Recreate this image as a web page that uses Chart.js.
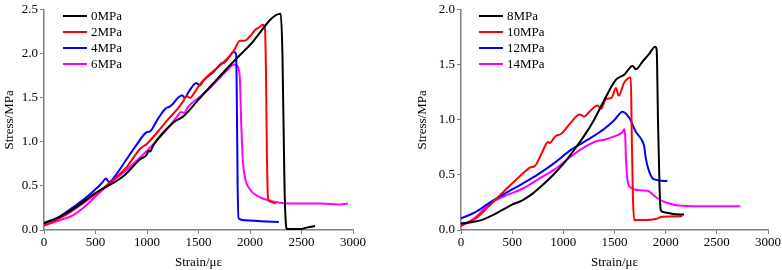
<!DOCTYPE html>
<html>
<head>
<meta charset="utf-8">
<script src="https://cdn.jsdelivr.net/npm/chart.js@4.4.1/dist/chart.umd.min.js"></script>
<style>
  body { margin: 0; background: #fff; }
  #wrap { position: relative; width: 782px; height: 270px; }
  .box { position: absolute; top: 0; width: 391px; height: 270px; }
</style>
</head>
<body>
<div id="wrap">
  <div class="box" style="left:0"><canvas id="leftChart"></canvas></div>
  <div class="box" style="left:391px"><canvas id="rightChart"></canvas></div>
</div>
<script>
// left panel: 0, 2, 4, 6 MPa
const strain0 = [0, 150, 285, 500, 770, 930, 1000, 1013, 1030, 1060, 1256, 1352, 1500, 1822, 2000, 2298, 2315, 2335, 2350, 2360, 2485, 2560, 2631];
const stress0 = [0.08, 0.15, 0.24, 0.42, 0.61, 0.80, 0.86, 0.90, 0.89, 0.96, 1.22, 1.29, 1.48, 1.89, 2.10, 2.456, 2.0, 0.5, 0.05, 0.01, 0.01, 0.03, 0.045];
const strain2 = [0, 130, 250, 400, 500, 600, 700, 800, 932, 1000, 1100, 1200, 1300, 1350, 1385, 1420, 1450, 1500, 1550, 1600, 1700, 1800, 1850, 1903, 1950, 2000, 2050, 2100, 2125, 2145, 2155, 2165, 2175, 2200, 2250];
const stress2 = [0.05, 0.12, 0.20, 0.32, 0.41, 0.50, 0.60, 0.71, 0.92, 0.98, 1.11, 1.25, 1.38, 1.46, 1.52, 1.50, 1.54, 1.63, 1.70, 1.76, 1.86, 1.97, 2.05, 2.15, 2.15, 2.20, 2.27, 2.31, 2.33, 2.30, 1.8, 0.8, 0.36, 0.32, 0.30];
const strain4 = [0, 150, 285, 400, 479, 560, 602, 631, 700, 800, 900, 997, 1030, 1100, 1180, 1220, 1250, 1300, 1340, 1370, 1400, 1480, 1510, 1550, 1650, 1720, 1750, 1800, 1840, 1865, 1872, 1880, 1890, 1950, 2100, 2280];
const stress4 = [0.07, 0.15, 0.26, 0.36, 0.44, 0.53, 0.585, 0.544, 0.63, 0.80, 0.97, 1.11, 1.12, 1.25, 1.38, 1.40, 1.43, 1.50, 1.53, 1.50, 1.56, 1.67, 1.64, 1.70, 1.80, 1.89, 1.90, 1.97, 2.02, 2.00, 1.5, 0.5, 0.13, 0.11, 0.10, 0.09];
const strain6 = [0, 150, 285, 400, 500, 609, 800, 1000, 1200, 1300, 1330, 1360, 1400, 1500, 1600, 1700, 1800, 1843, 1870, 1900, 1915, 1930, 1950, 2000, 2100, 2200, 2291, 2500, 2700, 2850, 2951];
const stress6 = [0.05, 0.11, 0.17, 0.27, 0.38, 0.50, 0.68, 0.90, 1.15, 1.30, 1.34, 1.33, 1.40, 1.50, 1.60, 1.72, 1.84, 1.88, 1.87, 1.75, 1.2, 0.8, 0.6, 0.46, 0.37, 0.33, 0.31, 0.30, 0.30, 0.29, 0.30];

// right panel: 8, 10, 12, 14 MPa
const strain8 = [0, 100, 200, 300, 400, 500, 600, 700, 800, 900, 1000, 1100, 1200, 1300, 1400, 1515, 1595, 1676, 1709, 1774, 1839, 1897, 1912, 1925, 1940, 1952, 1990, 2076, 2179];
const stress8 = [0.06, 0.07, 0.09, 0.13, 0.18, 0.23, 0.27, 0.33, 0.41, 0.50, 0.60, 0.72, 0.85, 1.00, 1.18, 1.365, 1.41, 1.49, 1.46, 1.53, 1.60, 1.665, 1.64, 1.0, 0.4, 0.18, 0.16, 0.145, 0.14];
const strain10 = [0, 136, 266, 396, 525, 623, 680, 720, 800, 850, 866, 920, 980, 1077, 1158, 1205, 1250, 1336, 1368, 1417, 1470, 1515, 1540, 1595, 1660, 1668, 1680, 1693, 1806, 1903, 1966, 2163];
const stress10 = [0.04, 0.10, 0.21, 0.33, 0.445, 0.53, 0.57, 0.58, 0.72, 0.80, 0.79, 0.85, 0.875, 0.98, 1.05, 1.03, 1.07, 1.13, 1.10, 1.19, 1.20, 1.29, 1.22, 1.34, 1.386, 0.9, 0.3, 0.09, 0.09, 0.10, 0.12, 0.125];
const strain12 = [0, 136, 266, 428, 590, 752, 914, 1077, 1239, 1401, 1500, 1579, 1644, 1709, 1758, 1790, 1806, 1839, 1887, 2017];
const stress12 = [0.105, 0.16, 0.24, 0.33, 0.415, 0.505, 0.61, 0.73, 0.82, 0.92, 1.00, 1.075, 1.02, 0.89, 0.83, 0.76, 0.65, 0.53, 0.46, 0.445];
const strain14 = [0, 136, 266, 428, 590, 752, 914, 1077, 1239, 1336, 1401, 1498, 1579, 1595, 1605, 1612, 1628, 1660, 1741, 1822, 1903, 2001, 2163, 2400, 2730];
const stress14 = [0.035, 0.11, 0.23, 0.31, 0.37, 0.46, 0.55, 0.67, 0.77, 0.81, 0.82, 0.85, 0.89, 0.915, 0.85, 0.65, 0.445, 0.385, 0.36, 0.356, 0.30, 0.25, 0.22, 0.215, 0.216];

const leftLabels = ["0MPa", "2MPa", "4MPa", "6MPa"];
const rightLabels = ["8MPa", "10MPa", "12MPa", "14MPa"];
const colors = ["#000000", "#ff0000", "#0000ff", "#ff00ff"];
const xTicks = [0, 500, 1000, 1500, 2000, 2500, 3000];

const FONT = "'Liberation Serif', 'Times New Roman', serif";
const AXIS = "#7f7f7f";

function pts(xs, ys) {
  return xs.map((x, i) => ({ x: x, y: ys[i] }));
}

// legend drawn inside the plot, top-left
const insideLegend = {
  id: "insideLegend",
  afterDraw(chart, args, opts) {
    const ctx = chart.ctx;
    ctx.save();
    ctx.font = "13px " + FONT;
    ctx.textBaseline = "middle";
    chart.data.datasets.forEach((ds, i) => {
      const y = opts.y + i * opts.gap;
      ctx.strokeStyle = ds.borderColor;
      ctx.lineWidth = 2;
      ctx.beginPath();
      ctx.moveTo(opts.x, y);
      ctx.lineTo(opts.x + 24, y);
      ctx.stroke();
      ctx.fillStyle = "#000";
      ctx.fillText(ds.label, opts.x + 28, y + 1);
    });
    ctx.restore();
  },
};

function makeChart(id, labels, series, yMax, yWidth, padRight, titlePad, legendX) {
  const ctx = document.getElementById(id).getContext("2d");
  return new Chart(ctx, {
    type: "line",
    data: {
      datasets: series.map((s, i) => ({
        label: labels[i],
        data: pts(s[0], s[1]),
        borderColor: colors[i],
        borderWidth: 2,
        pointRadius: 0,
        cubicInterpolationMode: "monotone",
        fill: false,
      })),
    },
    options: {
      responsive: true,
      maintainAspectRatio: false,
      animation: false,
      layout: { padding: { top: 5, right: padRight, left: 0, bottom: 0 } },
      scales: {
        x: {
          type: "linear",
          min: 0,
          max: 3000,
          afterBuildTicks: (scale) => {
            scale.ticks = xTicks.map((v) => ({ value: v }));
          },
          afterFit: (scale) => {
            scale.height = 40;
          },
          ticks: {
            autoSkip: false,
            maxRotation: 0,
            padding: 1,
            color: "#000",
            font: { family: FONT, size: 13 },
            callback: (v) => String(v),
          },
          grid: { drawOnChartArea: false, drawTicks: true, tickLength: 4, color: AXIS },
          border: { color: AXIS, width: 1.5 },
          title: {
            display: true,
            text: "Strain/με",
            color: "#000",
            font: { family: FONT, size: 13 },
            padding: { top: 0, bottom: 0 },
          },
        },
        y: {
          min: 0,
          max: yMax,
          afterFit: (scale) => {
            scale.width = yWidth;
          },
          ticks: {
            stepSize: 0.5,
            padding: 2,
            color: "#000",
            font: { family: FONT, size: 13 },
            callback: (v) => v.toFixed(1),
          },
          grid: { drawOnChartArea: false, drawTicks: true, tickLength: 4, color: AXIS },
          border: { color: AXIS, width: 1.5 },
          title: {
            display: true,
            text: "Stress/MPa",
            color: "#000",
            font: { family: FONT, size: 13 },
            padding: { top: titlePad, bottom: 0 },
          },
        },
      },
      plugins: {
        legend: { display: false },
        tooltip: { enabled: false },
        insideLegend: { x: legendX, y: 16, gap: 16 },
      },
    },
    plugins: [insideLegend],
  });
}

makeChart("leftChart", leftLabels,
  [[strain0, stress0], [strain2, stress2], [strain4, stress4], [strain6, stress6]],
  2.5, 44, 38, 2, 63);
makeChart("rightChart", rightLabels,
  [[strain8, stress8], [strain10, stress10], [strain12, stress12], [strain14, stress14]],
  2.0, 70, 13, 24, 88);
</script>
</body>
</html>
